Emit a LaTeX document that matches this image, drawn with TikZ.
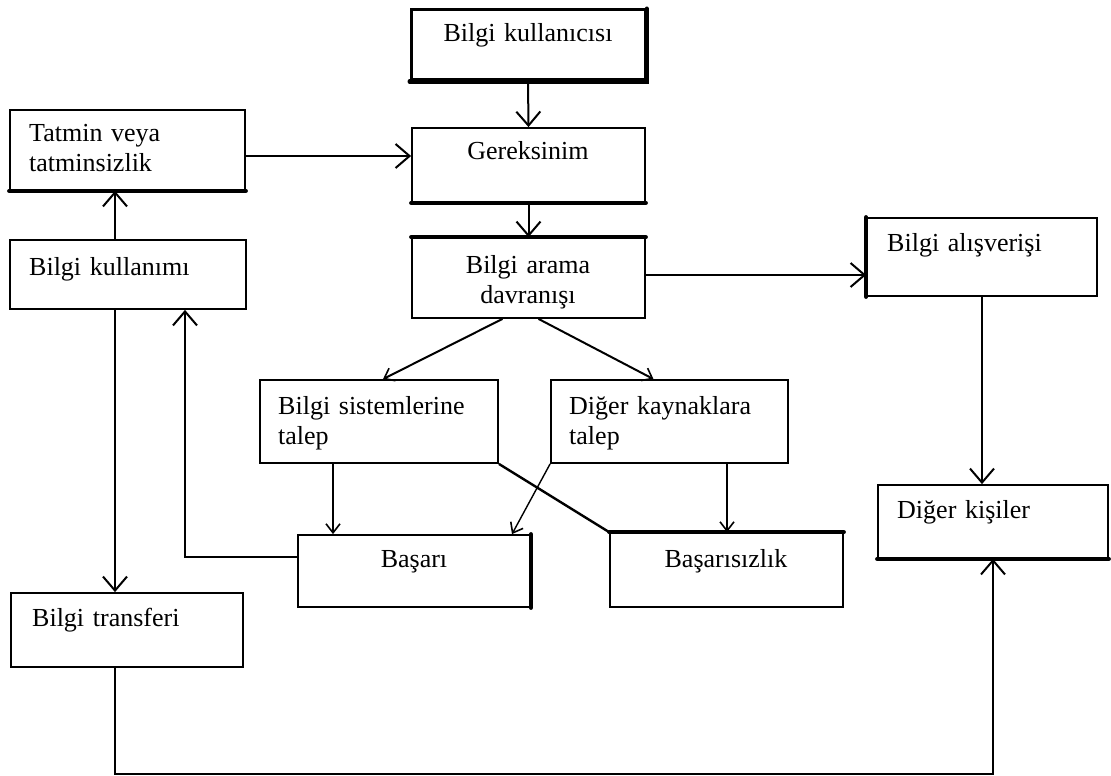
\documentclass[tikz,border=0pt]{standalone}
\usepackage{fontspec}
\setmainfont{Liberation Serif}
\usetikzlibrary{arrows.meta}
\begin{document}
\begin{tikzpicture}[x=1pt,y=-1pt,
  box/.style={draw, line width=1.8pt, inner sep=0pt, rectangle},
  lbl/.style={inner sep=0pt, font=\fontsize{26}{30}\selectfont, text width=215pt, align=left, anchor=base west},
  clbl/.style={inner sep=0pt, font=\fontsize{26}{30}\selectfont, text width=230pt, align=center, anchor=base},
  heavy/.style={line width=4pt, line cap=round},
  conn/.style={line width=2pt},
  bigtip/.style={-{Straight Barb[length=14pt,width=24pt,line width=2pt]}},
  smalltip/.style={-{Straight Barb[length=9pt,width=14pt,line width=1.6pt]}},
]
\useasboundingbox (0,0) rectangle (1111,776);

% boxes
\node[box, line width=3pt, minimum width=234pt, minimum height=70pt] (user) at (528,45) {};
\node[box, minimum width=233pt, minimum height=74pt] (need) at (528.5,165) {};
\node[box, minimum width=233pt, minimum height=80pt] (search) at (528.5,278) {};
\node[box, minimum width=235pt, minimum height=80pt] (sat) at (127.5,150) {};
\node[box, minimum width=236pt, minimum height=69pt] (use) at (128,274.5) {};
\node[box, minimum width=230pt, minimum height=78pt] (exch) at (982,257) {};
\node[box, minimum width=238pt, minimum height=83pt] (sys) at (379,421.5) {};
\node[box, minimum width=237pt, minimum height=83pt] (other) at (669.5,421.5) {};
\node[box, minimum width=232pt, minimum height=72pt] (succ) at (414,571) {};
\node[box, minimum width=233pt, minimum height=74pt] (fail) at (726.5,570) {};
\node[box, minimum width=230pt, minimum height=73pt] (people) at (993,521.5) {};
\node[box, minimum width=232pt, minimum height=74pt] (transfer) at (127,630) {};

% heavier edges
\draw[heavy] (user.south west) -- (user.south east) -- (user.north east);
\draw[heavy] (need.south west) -- (need.south east);
\draw[heavy] (search.north west) -- (search.north east);
\draw[heavy] (sat.south west) -- (sat.south east);
\draw[heavy] (exch.north west) -- (exch.south west);
\draw[heavy] (people.south west) -- (people.south east);
\draw[heavy] (fail.north west) -- (fail.north east);
\draw[heavy] (succ.north east) -- (succ.south east);

% labels
\node[clbl] (t-user) at (528,42) {Bilgi kullanıcısı};
\node[clbl] (t-need) at (528,159) {Gereksinim};
\node[clbl] (t-search) at (528,273) {Bilgi arama\\davranışı};
\node[lbl] (t-sat) at (29,141) {Tatmin veya\\tatminsizlik};
\node[lbl] (t-use) at (29,275) {Bilgi kullanımı};
\node[lbl] (t-exch) at (887,251) {Bilgi alışverişi};
\node[lbl] (t-sys) at (278,414) {Bilgi sistemlerine\\talep};
\node[lbl] (t-other) at (569,414) {Diğer kaynaklara\\talep};
\node[clbl] (t-succ) at (414,567) {Başarı};
\node[clbl] (t-fail) at (726,567) {Başarısızlık};
\node[lbl] (t-people) at (897,518) {Diğer kişiler};
\node[lbl] (t-transfer) at (32,626) {Bilgi transferi};

% helper points on box borders
\coordinate (a1) at ([yshift=-6pt]sat.east);
\coordinate (k1) at ([xshift=-13pt]use.north);
\coordinate (k2) at ([xshift=-13pt]use.south);
\coordinate (s1) at ([yshift=3pt]search.east);
\coordinate (s2) at ([xshift=-26pt]search.south);
\coordinate (s3) at ([xshift=4pt]sys.north);
\coordinate (s4) at ([xshift=10pt]search.south);
\coordinate (s5) at ([xshift=-16pt]other.north);
\coordinate (b1) at ([xshift=-46pt]sys.south);
\coordinate (b2) at ([xshift=57.5pt]other.south);
\coordinate (b3) at ([xshift=98pt]succ.north);
\coordinate (r1) at ([yshift=14pt]succ.west);
\coordinate (r2) at ([xshift=57pt]use.south);
\coordinate (k3) at ([xshift=-12pt]transfer.south);
\coordinate (p1) at ([yshift=-215pt]people.south);

% connectors
\draw[conn,bigtip] (user.south) -- (need.north);
\draw[conn,bigtip] (need.south) -- (search.north);
\draw[conn,bigtip] (a1) -- (a1 -| need.west);
\draw[conn,bigtip] (k1) -- (k1 |- sat.south);
\draw[conn,bigtip] (k2) -- (k2 |- transfer.north);
\draw[conn,bigtip] (s1) -- (s1 -| exch.west);
\draw[conn,bigtip] (exch.south) -- (exch.south |- people.north);
\draw[conn,smalltip] (s2) -- (s3);
\draw[conn,smalltip] (s4) -- (s5);
\draw[conn,smalltip] (b1) -- (b1 |- succ.north);
\draw[conn,smalltip] (b2) -- (b2 |- fail.north);
\draw[line width=1.4pt,smalltip] (other.south west) -- (b3);
\draw[line width=2.4pt] (sys.south east) -- (fail.north west);
\draw[conn,bigtip] (r1) -| (r2);
\draw[conn,bigtip] (k3) |- (p1) -- (people.south);
\end{tikzpicture}
\end{document}
